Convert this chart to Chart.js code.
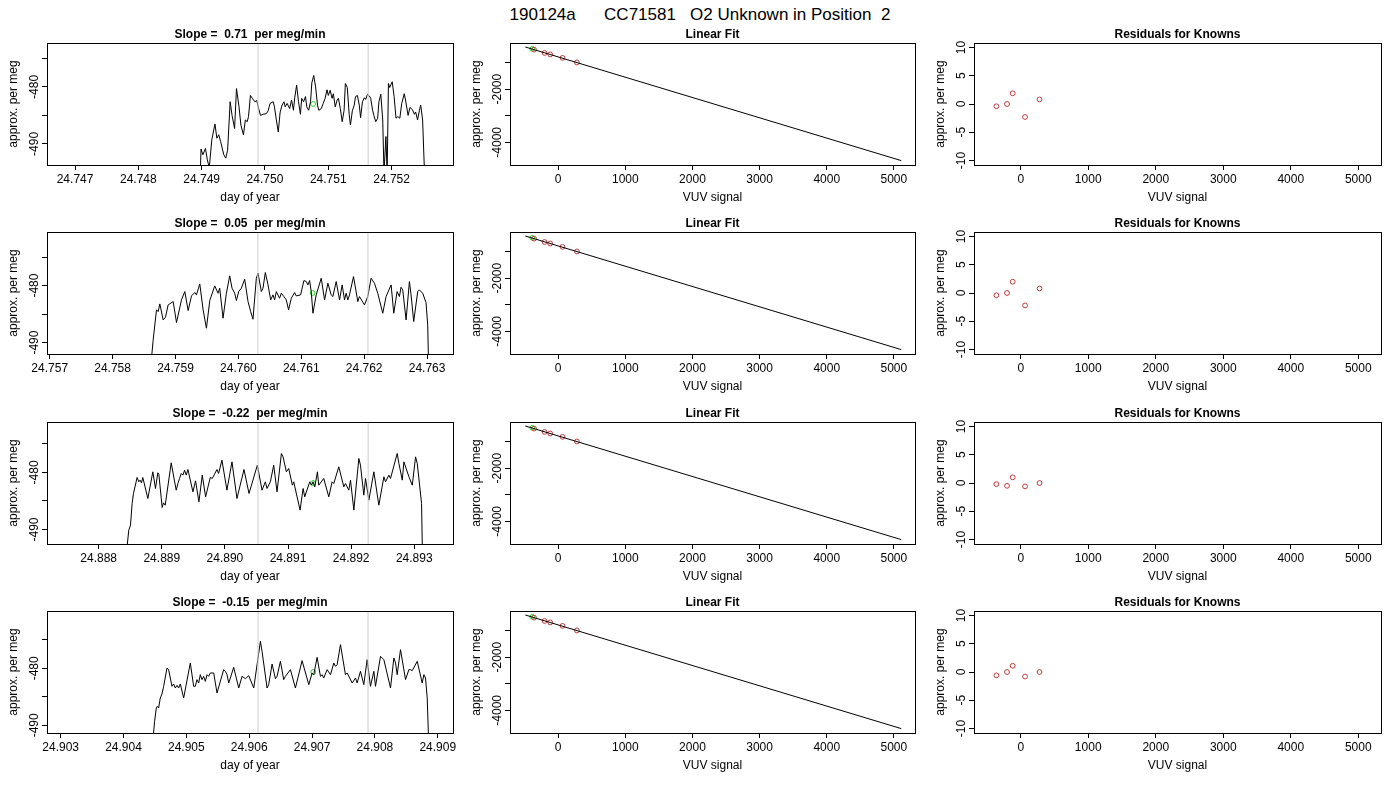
<!DOCTYPE html>
<html>
<head>
<meta charset="utf-8">
<title>190124a CC71581 O2 Unknown in Position 2</title>
<script src="https://cdn.jsdelivr.net/npm/chart.js@4.4.1/dist/chart.umd.min.js"></script>
<style>
  body { margin: 0; background: #fff; width: 1400px; height: 800px; position: relative; overflow: hidden; }
  #main { position: absolute; left: 0; top: 6px; width: 1400px; text-align: center; white-space: pre;
          font: 17px/17px "Liberation Sans", Arial, sans-serif; color: #000; }
  canvas { position: absolute; }
</style>
</head>
<body>
<div id="main">190124a      CC71581   O2 Unknown in Position  2</div>
<script>
// ---- data ----
const slopeText = ['0.71', '0.05', '-0.22', '-0.15'];

const ts1Time = [24.74898, 24.74899, 24.74902, 24.74906, 24.74909, 24.74912, 24.74916, 24.74921, 24.74924, 24.74927,
  24.74930, 24.74935, 24.74938, 24.74941, 24.74945, 24.74948, 24.74952, 24.74955, 24.74959, 24.74962,
  24.74966, 24.74969, 24.74972, 24.74974, 24.74977, 24.74980, 24.74984, 24.74987, 24.74990, 24.74993,
  24.74997, 24.75002, 24.75005, 24.75008, 24.75013, 24.75015, 24.75018, 24.75021, 24.75024, 24.75027,
  24.75030, 24.75032, 24.75035, 24.75039, 24.75042, 24.75045, 24.75047, 24.75050, 24.75053, 24.75056,
  24.75058, 24.75061, 24.75064, 24.75066, 24.75069, 24.75072, 24.75074, 24.75077, 24.75080, 24.75083,
  24.75085, 24.75089, 24.75092, 24.75095, 24.75098, 24.75100, 24.75103, 24.75106, 24.75108, 24.75111,
  24.75114, 24.75116, 24.75119, 24.75122, 24.75125, 24.75127, 24.75130, 24.75133, 24.75135, 24.75138,
  24.75141, 24.75143, 24.75146, 24.75149, 24.75151, 24.75154, 24.75157, 24.75159, 24.75162, 24.75165,
  24.75167, 24.75170, 24.75172, 24.75175, 24.75178, 24.75180, 24.75183, 24.75186, 24.75188, 24.75191,
  24.75193, 24.75195, 24.75197, 24.75201, 24.75204, 24.75207, 24.75210, 24.75213, 24.75216, 24.75220,
  24.75222, 24.75226, 24.75229, 24.75233, 24.75236, 24.75238, 24.75241, 24.75244, 24.75246, 24.75249,
  24.75252];
const ts1Val = [-494.5, -490.9, -491.9, -490.8, -492.8, -494.2, -489.3, -486.5, -489.0, -488.4,
  -489.6, -491.9, -492.5, -491.1, -482.6, -485.0, -487.3, -480.3, -483.5, -486.7,
  -488.4, -485.8, -486.1, -485.2, -481.5, -482.0, -482.6, -482.4, -483.8, -485.0,
  -484.8, -484.7, -484.2, -482.9, -482.6, -483.5, -485.8, -487.9, -484.4, -483.2,
  -482.6, -483.5, -482.9, -483.8, -482.3, -484.1, -481.9, -479.7, -482.6, -484.8,
  -482.0, -482.6, -481.7, -483.5, -484.1, -482.6, -479.3, -478.0, -480.0, -483.2,
  -484.1, -483.8, -482.9, -482.0, -480.5, -481.5, -480.6, -482.0, -481.2, -483.5,
  -482.3, -482.0, -483.8, -486.1, -484.1, -479.4, -480.1, -484.8, -486.7, -484.2,
  -483.2, -481.7, -481.5, -483.2, -485.4, -482.6, -481.9, -482.2, -481.3, -481.6,
  -482.0, -484.1, -485.0, -486.1, -485.5, -482.6, -481.3, -485.8, -495.1, -488.7,
  -495.1, -479.4, -480.1, -479.1, -481.7, -485.5, -485.2, -485.5, -482.9, -481.2,
  -482.3, -485.0, -483.6, -484.0, -484.8, -484.4, -485.8, -484.1, -483.2, -485.8,
  -495.1];

const ts2Time = [24.758608, 24.758645, 24.758698, 24.758725, 24.758751, 24.758804, 24.758841, 24.758883, 24.758963, 24.759016,
  24.759095, 24.759148, 24.759201, 24.759254, 24.759307, 24.759333, 24.759386, 24.759439, 24.759492, 24.759545,
  24.759624, 24.759677, 24.759703, 24.759756, 24.759809, 24.759862, 24.759899, 24.759941, 24.759968, 24.760005,
  24.760047, 24.760100, 24.760153, 24.760195, 24.760232, 24.760285, 24.760312, 24.760365, 24.760391, 24.760428,
  24.760471, 24.760513, 24.760550, 24.760576, 24.760603, 24.760655, 24.760682, 24.760724, 24.760761, 24.760798,
  24.760841, 24.760894, 24.760920, 24.760989, 24.761042, 24.761079, 24.761105, 24.761132, 24.761158, 24.761185,
  24.761237, 24.761317, 24.761370, 24.761423, 24.761475, 24.761502, 24.761555, 24.761608, 24.761650, 24.761687,
  24.761713, 24.761740, 24.761766, 24.761830, 24.761899, 24.761925, 24.762004, 24.762057, 24.762110, 24.762163,
  24.762216, 24.762295, 24.762348, 24.762428, 24.762470, 24.762523, 24.762560, 24.762586, 24.762613, 24.762666,
  24.762719, 24.762745, 24.762787, 24.762851, 24.762877, 24.762930, 24.762983, 24.763010, 24.763025];
const ts2Val = [-494.0, -489.53, -484.26, -484.56, -483.21, -486.02, -485.55, -483.39, -482.80, -486.49,
  -482.51, -481.05, -484.38, -481.81, -481.22, -481.63, -479.70, -484.26, -487.48, -482.63,
  -480.05, -481.34, -480.46, -485.72, -481.34, -478.30, -480.46, -481.34, -482.63, -481.05,
  -480.46, -478.88, -482.80, -484.56, -485.90, -478.71, -477.83, -481.05, -480.46, -477.71,
  -479.88, -482.51, -481.63, -482.51, -481.05, -482.22, -481.34, -481.92, -482.51, -484.26,
  -482.22, -481.22, -481.81, -481.63, -479.12, -479.29, -479.88, -479.12, -481.05, -484.85,
  -481.63, -478.71, -482.51, -479.58, -481.63, -481.92, -479.29, -482.51, -479.88, -482.51,
  -481.34, -482.51, -481.63, -478.42, -482.80, -481.92, -483.39, -481.92, -478.71, -479.58,
  -481.34, -484.85, -481.92, -479.88, -484.85, -481.05, -481.92, -480.29, -480.75, -486.02,
  -479.29, -481.63, -486.31, -481.05, -480.75, -481.34, -482.98, -486.89, -494.5];

const ts3Time = [24.888445, 24.888477, 24.888504, 24.888530, 24.888551, 24.888609, 24.888636, 24.888657, 24.888678, 24.888699,
  24.888779, 24.888858, 24.888900, 24.888937, 24.888953, 24.889006, 24.889027, 24.889054, 24.889149, 24.889228,
  24.889255, 24.889281, 24.889308, 24.889334, 24.889361, 24.889387, 24.889414, 24.889493, 24.889535, 24.889588,
  24.889641, 24.889694, 24.889768, 24.889800, 24.889874, 24.889900, 24.889953, 24.890032, 24.890112, 24.890191,
  24.890302, 24.890382, 24.890514, 24.890588, 24.890641, 24.890667, 24.890720, 24.890773, 24.890826, 24.890895,
  24.890921, 24.890974, 24.891011, 24.891069, 24.891090, 24.891191, 24.891239, 24.891265, 24.891344, 24.891371,
  24.891397, 24.891424, 24.891466, 24.891487, 24.891566, 24.891646, 24.891699, 24.891725, 24.891804, 24.891884,
  24.891910, 24.891963, 24.891990, 24.892043, 24.892122, 24.892148, 24.892201, 24.892228, 24.892281, 24.892360,
  24.892439, 24.892519, 24.892545, 24.892598, 24.892624, 24.892730, 24.892757, 24.892810, 24.892836, 24.892916,
  24.892969, 24.893021, 24.893048, 24.893116, 24.893132];
const ts3Val = [-493.5, -490.12, -489.25, -485.45, -483.69, -480.88, -481.64, -481.35, -481.82, -480.88,
  -484.57, -479.89, -482.81, -480.06, -480.30, -486.15, -485.33, -485.74, -478.31, -483.11,
  -481.94, -481.06, -480.18, -480.47, -479.60, -480.47, -479.48, -483.40, -481.47, -485.15,
  -480.47, -484.28, -480.88, -481.06, -479.48, -480.18, -477.84, -483.11, -478.14, -484.57,
  -479.48, -483.69, -478.72, -483.11, -481.64, -482.81, -481.64, -478.72, -483.40, -476.67,
  -477.26, -479.89, -479.30, -482.23, -481.64, -486.61, -482.81, -484.28, -481.64, -482.23,
  -481.64, -482.52, -479.89, -482.23, -481.06, -484.28, -481.64, -481.94, -479.01, -482.52,
  -481.94, -483.11, -481.35, -486.61, -477.55, -478.72, -483.98, -481.06, -484.86, -479.89,
  -485.74, -480.77, -481.64, -480.47, -481.06, -476.67, -478.43, -481.35, -478.14, -480.77,
  -482.23, -477.26, -478.43, -485.45, -496.0];

const ts4Time = [24.904469, 24.904495, 24.904522, 24.904538, 24.904559, 24.904585, 24.904612, 24.904639, 24.904692, 24.904718,
  24.904771, 24.904798, 24.904824, 24.904851, 24.904877, 24.904904, 24.904957, 24.905063, 24.905116, 24.905143,
  24.905169, 24.905196, 24.905222, 24.905249, 24.905275, 24.905302, 24.905329, 24.905355, 24.905382, 24.905435,
  24.905488, 24.905594, 24.905621, 24.905647, 24.905674, 24.905700, 24.905753, 24.905833, 24.905886, 24.905939,
  24.905992, 24.906072, 24.906178, 24.906204, 24.906284, 24.906310, 24.906364, 24.906417, 24.906443, 24.906496,
  24.906549, 24.906576, 24.906656, 24.906735, 24.906841, 24.906948, 24.907001, 24.907027, 24.907080, 24.907133,
  24.907160, 24.907186, 24.907239, 24.907293, 24.907346, 24.907372, 24.907399, 24.907452, 24.907531, 24.907558,
  24.907638, 24.907691, 24.907717, 24.907770, 24.907823, 24.907876, 24.907929, 24.907983, 24.908009, 24.908089,
  24.908115, 24.908142, 24.908248, 24.908301, 24.908328, 24.908354, 24.908407, 24.908487, 24.908540, 24.908566,
  24.908593, 24.908673, 24.908752, 24.908779, 24.908805, 24.908832, 24.908858];
const ts4Val = [-492.5, -489.30, -486.96, -486.67, -486.96, -485.21, -484.51, -483.16, -479.95, -480.24,
  -483.16, -482.75, -483.46, -482.99, -483.46, -482.75, -485.21, -479.07, -483.16, -483.16,
  -481.99, -482.58, -481.12, -481.99, -481.41, -482.29, -481.12, -481.41, -480.82, -480.82,
  -484.33, -480.24, -480.53, -481.12, -482.58, -481.70, -479.83, -483.46, -481.41, -481.82,
  -481.29, -483.46, -475.27, -477.02, -483.46, -482.87, -479.25, -481.82, -481.41, -478.78,
  -481.99, -481.41, -480.24, -483.46, -478.66, -482.87, -480.82, -481.12, -478.08, -481.41,
  -481.12, -481.70, -480.24, -481.12, -479.07, -479.66, -479.36, -475.85, -481.12, -480.82,
  -482.58, -481.70, -482.58, -480.53, -482.87, -478.49, -483.16, -480.53, -483.16, -477.90,
  -478.19, -478.49, -483.46, -478.19, -479.07, -481.12, -476.73, -481.99, -480.24, -480.24,
  -480.42, -478.78, -482.58, -481.12, -481.70, -485.21, -494.0];

const tsTime = [ts1Time, ts2Time, ts3Time, ts4Time];
const tsVal = [ts1Val, ts2Val, ts3Val, ts4Val];

const tsXMin = [24.746557, 24.756957, 24.887181, 24.902783];
const tsXMax = [24.752970, 24.763412, 24.893614, 24.909242];
const tsXTicks = [
  [24.747, 24.748, 24.749, 24.750, 24.751, 24.752],
  [24.757, 24.758, 24.759, 24.760, 24.761, 24.762, 24.763],
  [24.888, 24.889, 24.890, 24.891, 24.892, 24.893],
  [24.903, 24.904, 24.905, 24.906, 24.907, 24.908, 24.909]
];
const tsYMin = [-493.7, -492.0, -492.55, -491.35];
const tsYMax = [-472.3, -470.6, -471.15, -469.95];
const tsYTicks = [-490, -485, -480, -475];
const tsYLabels = [-490, -480];

const winStart = [24.74989, 24.76031, 24.890524, 24.90614];
const winEnd = [24.75163, 24.76206, 24.89227, 24.90789];
const unkTime = [24.75076, 24.76118, 24.891397, 24.90702];
const unkPerMeg = [-483.0, -481.3, -481.85, -480.65];

const knownVuv = [-360, -203, -119, 64, 279];
const knownPerMeg = [-511, -638, -694, -822, -995];
const unkVuv = [-386, -386, -386, -386];
const fitVuv = [-490, 5110];
const fitPerMeg = [-413, -4687];
const fitXTicks = [0, 1000, 2000, 3000, 4000, 5000];
const fitYTicks = [-4000, -3000, -2000, -1000];
const fitYLabels = [-4000, -2000];

const residuals = [
  [-0.4, 0.0, 1.9, -2.3, 0.8],
  [-0.4, 0.0, 2.0, -2.2, 0.8],
  [-0.2, -0.5, 1.0, -0.6, 0.0],
  [-0.6, 0.0, 1.1, -0.8, 0.0]
];
const resYTicks = [-10, -5, 0, 5, 10];

// ---- layout ----
const FONT = '"Liberation Sans", Arial, sans-serif';
const CELL_H = 190;
const cellTop = [22, 211, 401, 590];
const cellLeft = [0, 460, 920];
const cellW = [460, 460, 480];
const plotLeft = [47, 50, 54];
const plotRight = [453, 456, 461];
const PLOT_TOP = 21, PLOT_H = 122;
const RED = '#C03A3A', GREEN = '#1EDC1E';

Chart.defaults.font.family = FONT;
Chart.defaults.font.size = 12;
Chart.defaults.color = '#000';

// R-like frame, titles and rotated y labels
const rStyle = {
  id: 'rStyle',
  afterDraw(chart, args, o) {
    const ctx = chart.ctx, a = chart.chartArea, ys = chart.scales.y;
    ctx.save();
    ctx.strokeStyle = '#000';
    ctx.lineWidth = 1;
    ctx.strokeRect(a.left + 0.5, a.top + 0.5, a.right - a.left, a.bottom - a.top);
    ctx.fillStyle = '#000';
    ctx.textAlign = 'center';
    ctx.textBaseline = 'alphabetic';
    ctx.font = 'bold 12px ' + FONT;
    ctx.fillText(o.title, (a.left + a.right) / 2, a.top - 5);
    ctx.font = '12px ' + FONT;
    ctx.fillText(o.xTitle, (a.left + a.right) / 2, a.bottom + 36);
    o.yLabels.forEach(v => {
      ctx.save();
      ctx.translate(a.left - 9.5, ys.getPixelForValue(v));
      ctx.rotate(-Math.PI / 2);
      ctx.fillText(String(v), 0, 0);
      ctx.restore();
    });
    ctx.save();
    ctx.translate(a.left - 30, (a.top + a.bottom) / 2);
    ctx.rotate(-Math.PI / 2);
    ctx.fillText(o.yTitle, 0, 0);
    ctx.restore();
    ctx.restore();
  }
};

function scales(col, xMin, xMax, xTicks, xFmt, yMin, yMax, yTicks) {
  const tickGrid = { drawOnChartArea: false, drawTicks: true, tickLength: 5, tickColor: '#000', lineWidth: 1 };
  return {
    x: {
      type: 'linear', min: xMin, max: xMax,
      afterBuildTicks: s => { s.ticks = xTicks.map(v => ({ value: v })); },
      afterFit: s => { s.height = CELL_H - PLOT_TOP - PLOT_H; },
      grid: tickGrid,
      border: { display: false },
      ticks: { autoSkip: false, maxRotation: 0, minRotation: 0, padding: 2, color: '#000', font: { size: 12 }, callback: xFmt }
    },
    y: {
      type: 'linear', min: yMin, max: yMax,
      afterBuildTicks: s => { s.ticks = yTicks.map(v => ({ value: v })); },
      afterFit: s => { s.width = plotLeft[col]; },
      grid: tickGrid,
      border: { display: false },
      ticks: { display: false }
    }
  };
}

function makePanel(row, col, datasets, sc, deco) {
  const cv = document.createElement('canvas');
  cv.width = cellW[col];
  cv.height = CELL_H;
  cv.style.left = cellLeft[col] + 'px';
  cv.style.top = cellTop[row] + 'px';
  cv.style.width = cellW[col] + 'px';
  cv.style.height = CELL_H + 'px';
  document.body.appendChild(cv);
  new Chart(cv, {
    type: 'scatter',
    data: { datasets: datasets },
    options: {
      responsive: false,
      animation: false,
      events: [],
      layout: { padding: { top: PLOT_TOP, left: 0, bottom: 0, right: cellW[col] - plotRight[col] } },
      scales: sc,
      plugins: { legend: { display: false }, tooltip: { enabled: false }, rStyle: deco }
    },
    plugins: [rStyle]
  });
}

function lineSet(xs, ys, color) {
  return { data: xs.map((x, i) => ({ x: x, y: ys[i] })), showLine: true, borderColor: color, borderWidth: 1, pointRadius: 0, fill: false };
}
function circleSet(xs, ys, color) {
  return { data: xs.map((x, i) => ({ x: x, y: ys[i] })), showLine: false, pointStyle: 'circle', pointRadius: 2.4,
           borderColor: color, pointBorderColor: color, backgroundColor: 'rgba(0,0,0,0)',
           pointBackgroundColor: 'rgba(0,0,0,0)', pointBorderWidth: 1 };
}

for (let r = 0; r < 4; r++) {
  // time series of the unknown
  const lo = tsYMin[r], hi = tsYMax[r];
  makePanel(r, 0, [
    lineSet([winStart[r], winStart[r]], [lo - 5, hi + 5], '#cccccc'),
    lineSet([winEnd[r], winEnd[r]], [lo - 5, hi + 5], '#cccccc'),
    lineSet(tsTime[r], tsVal[r], '#000'),
    circleSet([unkTime[r]], [unkPerMeg[r]], GREEN)
  ], scales(0, tsXMin[r], tsXMax[r], tsXTicks[r], v => v.toFixed(3), lo, hi, tsYTicks),
  { title: 'Slope =  ' + slopeText[r] + '  per meg/min', xTitle: 'day of year', yTitle: 'approx. per meg', yLabels: tsYLabels });

  // linear fit of knowns
  makePanel(r, 1, [
    lineSet(fitVuv, fitPerMeg, '#000'),
    circleSet(knownVuv, knownPerMeg, RED),
    circleSet([unkVuv[r]], [unkPerMeg[r]], GREEN)
  ], scales(1, -718, 5315, fitXTicks, v => String(v), -4852, -263, fitYTicks),
  { title: 'Linear Fit', xTitle: 'VUV signal', yTitle: 'approx. per meg', yLabels: fitYLabels });

  // residuals
  makePanel(r, 2, [
    circleSet(knownVuv, residuals[r], RED)
  ], scales(2, -692, 5337, fitXTicks, v => String(v), -10.8, 10.8, resYTicks),
  { title: 'Residuals for Knowns', xTitle: 'VUV signal', yTitle: 'approx. per meg', yLabels: resYTicks });
}
</script>
</body>
</html>
